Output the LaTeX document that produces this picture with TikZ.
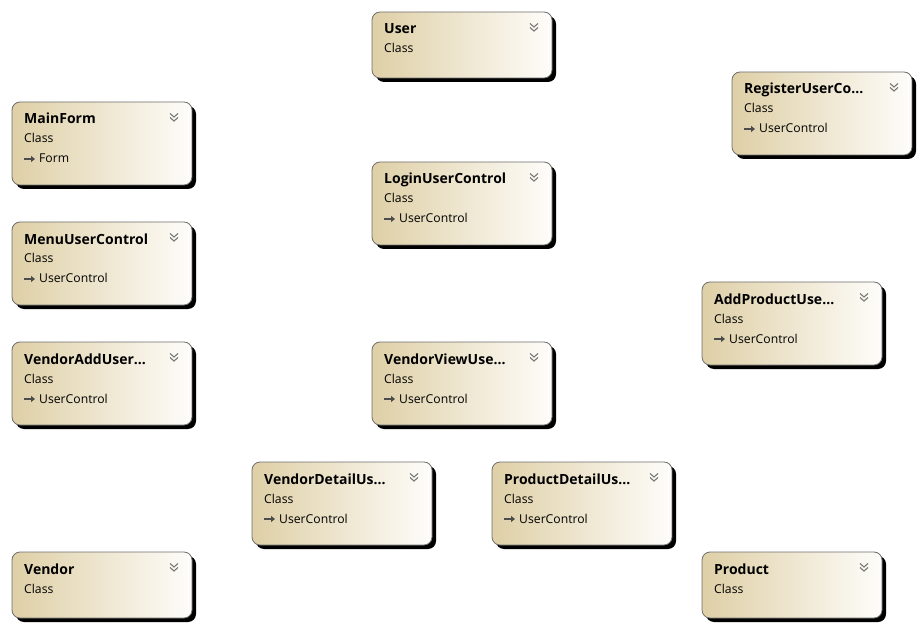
\documentclass[tikz,border=0pt]{standalone}
\usepackage{fontspec}
\setmainfont{Open Sans}
\usetikzlibrary{shadows,arrows.meta}
\definecolor{tanL}{RGB}{222,207,166}
\definecolor{tanR}{RGB}{254,253,250}
\definecolor{bordr}{RGB}{110,110,110}
\definecolor{chev}{RGB}{120,120,120}
\tikzset{
  classbox/.style={draw=bordr, line width=0.8pt, rounded corners=8pt,
    left color=tanL, right color=tanR, minimum width=180pt, inner sep=0pt,
    drop shadow={shadow xshift=4pt, shadow yshift=-4pt, fill=black, opacity=1}},
  ttl/.style={anchor=base west, inner sep=0pt, font=\fontsize{14}{16}\selectfont\bfseries},
  sub/.style={anchor=base west, inner sep=0pt, font=\fontsize{12.2}{14}\selectfont},
  chevl/.style={draw=chev, line width=1.1pt},
  inh/.style={draw=black!70, line width=1.3pt, -{Triangle[length=4pt,width=6pt]}}
}
% #1 name, #2 left, #3 top, #4 title, #5 base (empty for none)
\newcommand{\clsbox}[5]{%
  \if\relax\detokenize{#5}\relax
    \node[classbox, minimum height=66pt] (#1) at (#2+90,#3+33) {};
  \else
    \node[classbox, minimum height=83pt] (#1) at (#2+90,#3+41.5) {};
  \fi
  \node[ttl] (#1t) at (#2+12,#3+22) {#4};
  \node[sub] (#1c) at (#2+12,#3+41) {Class};
  \draw[chevl] (#2+158,#3+11.5) -- (#2+162,#3+15) -- (#2+166,#3+11.5);
  \draw[chevl] (#2+158,#3+15.5) -- (#2+162,#3+19) -- (#2+166,#3+15.5);
  \if\relax\detokenize{#5}\relax\else
    \coordinate (#1a) at (#2+12,#3+57);
    \coordinate (#1b) at (#2+23,#3+57);
    \draw[inh] (#1a) -- (#1b);
    \node[sub] (#1d) at (#2+27,#3+61) {#5};
  \fi
}
\begin{document}
\begin{tikzpicture}[x=1pt,y=-1pt]
\useasboundingbox (0,0) rectangle (924,631);
\clsbox{user}{372}{12}{User}{}
\clsbox{reg}{732}{72}{RegisterUserCo...}{UserControl}
\clsbox{main}{12}{102}{MainForm}{Form}
\clsbox{login}{372}{162}{LoginUserControl}{UserControl}
\clsbox{menu}{12}{222}{MenuUserControl}{UserControl}
\clsbox{addp}{702}{282}{AddProductUse...}{UserControl}
\clsbox{vadd}{12}{342}{VendorAddUser...}{UserControl}
\clsbox{vview}{372}{342}{VendorViewUse...}{UserControl}
\clsbox{vdet}{252}{462}{VendorDetailUs...}{UserControl}
\clsbox{pdet}{492}{462}{ProductDetailUs...}{UserControl}
\clsbox{vendor}{12}{552}{Vendor}{}
\clsbox{product}{702}{552}{Product}{}
\end{tikzpicture}
\end{document}
